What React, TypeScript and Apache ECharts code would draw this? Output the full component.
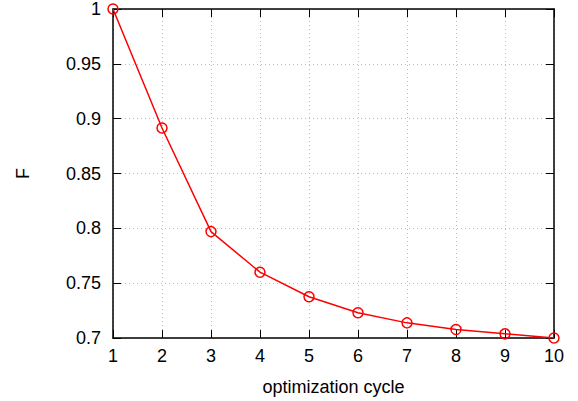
import React, { useEffect, useRef } from "react";
import * as echarts from "echarts";

const cycles = [1, 2, 3, 4, 5, 6, 7, 8, 9, 10];
const fValues = [1.0, 0.8915, 0.797, 0.760, 0.7376, 0.723, 0.7138, 0.7077, 0.7038, 0.700];
const yTickLabels = ["0.7", "0.75", "0.8", "0.85", "0.9", "0.95", "1"];

export default function App() {
  const ref = useRef<HTMLDivElement>(null);
  useEffect(() => {
    document.body.style.margin = "0";
    const chart = echarts.init(ref.current!, null, { renderer: "svg" });
    const font = "'Liberation Sans', Arial, sans-serif";
    const common = {
      axisLine: { show: true, lineStyle: { color: "#000", width: 1.5 } },
      axisTick: { show: true, inside: true, length: 8, lineStyle: { color: "#000", width: 1 } },
    };
    chart.setOption({
      animation: false,
      backgroundColor: "#fff",
      grid: { left: 113, right: 24, top: 8, bottom: 62, containLabel: false },
      xAxis: [
        {
          type: "value",
          min: 1,
          max: 10,
          interval: 1,
          name: "optimization cycle",
          nameLocation: "middle",
          nameGap: 40,
          nameTextStyle: { fontFamily: font, fontSize: 18, color: "#000" },
          axisLabel: { fontFamily: font, fontSize: 18, color: "#000", margin: 9 },
          splitLine: { show: true, lineStyle: { color: "#bbb", type: [1, 3], width: 1 } },
          ...common,
        },
        {
          type: "value",
          position: "top",
          min: 1,
          max: 10,
          interval: 1,
          axisLabel: { show: false },
          splitLine: { show: false },
          ...common,
        },
      ],
      yAxis: [
        {
          type: "value",
          min: 0.7,
          max: 1.0,
          interval: 0.05,
          name: "F",
          nameLocation: "middle",
          nameGap: 81,
          nameRotate: 90,
          nameTextStyle: { fontFamily: font, fontSize: 18, color: "#000" },
          axisLabel: {
            fontFamily: font,
            fontSize: 18,
            color: "#000",
            margin: 12,
            formatter: (v: number) => {
              const idx = Math.round((v - 0.7) / 0.05);
              return yTickLabels[idx] ?? String(v);
            },
          },
          splitLine: { show: true, lineStyle: { color: "#bbb", type: [1, 3], width: 1 } },
          ...common,
        },
        {
          type: "value",
          position: "right",
          min: 0.7,
          max: 1.0,
          interval: 0.05,
          axisLabel: { show: false },
          splitLine: { show: false },
          ...common,
        },
      ],
      series: [
        {
          type: "line",
          data: cycles.map((c, i) => [c, fValues[i]]),
          symbol: "circle",
          symbolSize: 10,
          showSymbol: true,
          itemStyle: { color: "rgba(0,0,0,0)", borderColor: "#ff0000", borderWidth: 1.5 },
          lineStyle: { color: "#ff0000", width: 1.5 },
          smooth: false,
          z: 5,
        },
      ],
    });
    return () => chart.dispose();
  }, []);
  return <div ref={ref} style={{ width: 578, height: 401 }} />;
}
